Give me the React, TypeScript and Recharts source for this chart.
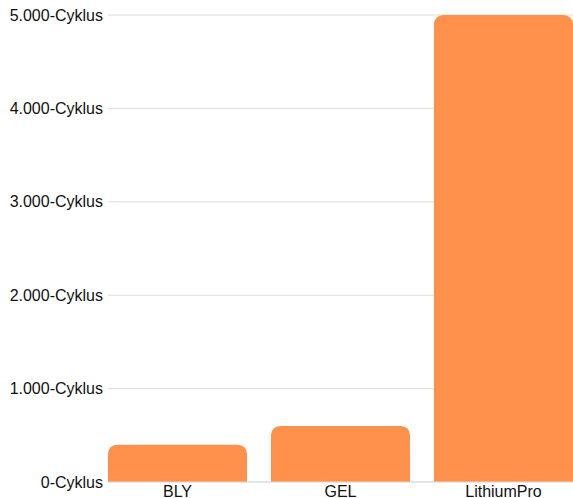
import { BarChart, Bar, XAxis, YAxis, CartesianGrid } from "recharts";

const categories = ["BLY", "GEL", "LithiumPro"];
const cycles = [400, 600, 5000];
const yTicks = [0, 1000, 2000, 3000, 4000, 5000];

const data = categories.map((name, i) => ({ name, cycles: cycles[i] }));

const formatTick = (v: number) => `${v.toLocaleString("de-DE")}-Cyklus`;

export default function App() {
  return (
    <div
      style={{
        position: "fixed",
        left: 0,
        top: 0,
        width: 573,
        height: 498,
        overflow: "hidden",
        background: "#fff",
        fontFamily: "'Liberation Sans', Arial, sans-serif",
      }}
    >
      <BarChart
        width={585}
        height={498}
        data={data}
        margin={{ top: 15, right: 0, bottom: 0, left: 0 }}
        barCategoryGap={12}
      >
        <CartesianGrid vertical={false} stroke="#dddddd" />
        <XAxis
          dataKey="name"
          padding={{ left: -12, right: 0 }}
          height={16}
          tickLine={false}
          tickSize={0}
          tickMargin={4}
          axisLine={{ stroke: "#dddddd" }}
          tick={{ fill: "#111", fontSize: 16 }}
        />
        <YAxis
          width={108}
          domain={[0, 5000]}
          ticks={yTicks}
          tickFormatter={formatTick}
          axisLine={false}
          tickLine={false}
          tickSize={0}
          tickMargin={5}
          tick={{ fill: "#111", fontSize: 16 }}
        />
        <Bar
          dataKey="cycles"
          fill="#ff914d"
          radius={[9, 9, 0, 0]}
          isAnimationActive={false}
        />
      </BarChart>
    </div>
  );
}
